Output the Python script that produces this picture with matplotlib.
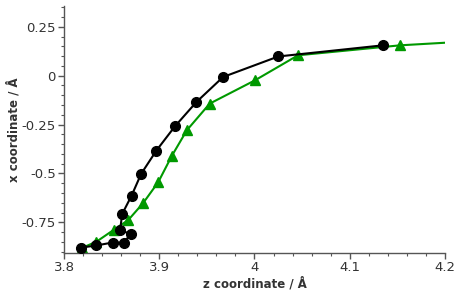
"""Recreate the z/x coordinate trace chart."""

import matplotlib

matplotlib.use("Agg")
import matplotlib.pyplot as plt
from matplotlib.ticker import MultipleLocator, FuncFormatter


# black trace (circles)
black_z = [3.818, 3.834, 3.851, 3.863, 3.870, 3.859, 3.861, 3.871, 3.881,
           3.897, 3.9165, 3.939, 3.967, 4.025, 4.135]
black_x = [-0.879, -0.868, -0.853, -0.853, -0.810, -0.789, -0.708, -0.613,
           -0.502, -0.383, -0.259, -0.135, -0.007, 0.098, 0.155]

# green trace (triangles), last point lies beyond the axis
green_z = [3.8186, 3.834, 3.852, 3.8675, 3.883, 3.899, 3.913, 3.929, 3.953,
           4.0005, 4.0457, 4.153, 4.26]
green_x = [-0.881, -0.849, -0.789, -0.738, -0.652, -0.544, -0.412, -0.279,
           -0.143, -0.024, 0.104, 0.155, 0.185]

x_ticks = [3.8, 3.9, 4.0, 4.1, 4.2]
y_ticks = [-0.75, -0.5, -0.25, 0, 0.25]

TEXT = "#333333"
AXIS = "#555555"
GREEN = "#009900"

plt.rcParams["font.family"] = ["DejaVu Sans"]
plt.rcParams["axes.unicode_minus"] = False

fig = plt.figure(figsize=(4.63, 2.95), dpi=100)
ax = fig.add_axes([0.1382, 0.1434, 0.8229, 0.8363])

ax.plot(green_z, green_x, "-^", color=GREEN, lw=1.5, ms=7, zorder=2)
ax.plot(black_z, black_x, "-o", color="black", lw=1.5, ms=7, zorder=3)

ax.set_xlim(3.8, 4.2)
ax.set_ylim(-0.905, 0.356)
ax.set_xticks(x_ticks)
ax.set_yticks(y_ticks)
ax.xaxis.set_minor_locator(MultipleLocator(0.02))
ax.yaxis.set_minor_locator(MultipleLocator(0.05))


def fmt(v, _pos):
    s = f"{v:.2f}".rstrip("0").rstrip(".")
    return "0" if s in ("-0", "0") else s


ax.xaxis.set_major_formatter(FuncFormatter(fmt))
ax.yaxis.set_major_formatter(FuncFormatter(fmt))

for side in ("top", "right"):
    ax.spines[side].set_visible(False)
for side in ("left", "bottom"):
    ax.spines[side].set_color(AXIS)
    ax.spines[side].set_linewidth(1.0)

ax.tick_params(which="major", length=4.5, width=1.0, color=AXIS,
               labelsize=9.5, labelcolor=TEXT, pad=1.5)
ax.tick_params(which="minor", length=2.5, width=0.8, color=AXIS)

ax.set_xlabel("z coordinate / Å", fontsize=8.5, fontweight="bold",
              color=TEXT, labelpad=2)
ax.set_ylabel("x coordinate / Å", fontsize=8.5, fontweight="bold",
              color=TEXT, labelpad=1)

fig.savefig("out.png", dpi=100)
